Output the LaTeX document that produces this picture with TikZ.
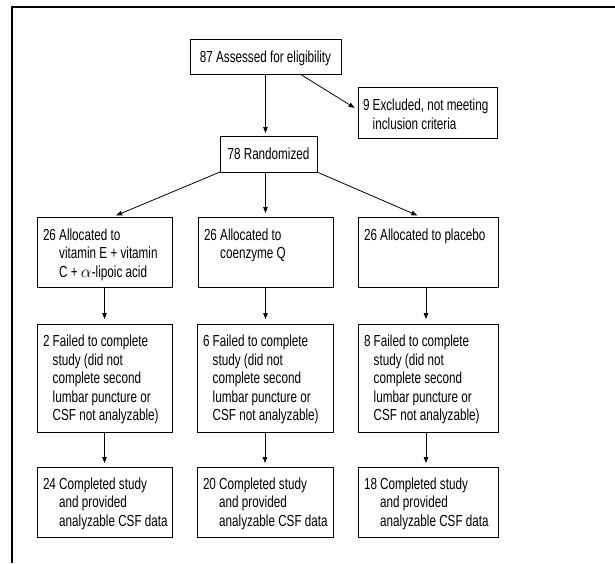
\documentclass[tikz,border=0pt]{standalone}
\usepackage{fontspec}
\setmainfont[FakeStretch=0.73]{Liberation Sans}
\usetikzlibrary{arrows.meta}
\newcommand{\bt}[4]{\parbox[c][#2pt][t]{#1pt}{\vspace*{#3pt}#4}}
\newcommand{\hg}[2]{\hspace*{6pt}\begin{tabular}[t]{@{}l@{\ }l@{}}#1&#2\end{tabular}}
\begin{document}
\begin{tikzpicture}[x=1pt,y=-1pt,
  box/.style={draw, line width=0.8pt, inner sep=0pt, outer sep=0pt, anchor=north west,
    font=\fontsize{16}{18.6}\selectfont},
  arr/.style={-{Triangle[length=6pt,width=4.5pt]}, line width=0.8pt, shorten >=4pt}]
\useasboundingbox (0,0) rectangle (615,563);
\draw[line width=1.1pt] (12,563) -- (12,7) -- (615,7);
% top
\node[box] (top) at (190,39) {\bt{151}{35}{10}{\centering\strut 87 Assessed for eligibility\par}};
\node[box] (excl) at (358,87) {\bt{139}{51}{10.5}{\hspace*{-1pt}\hg{9}{Excluded, not meeting\\&inclusion criteria}}};
\node[box] (rand) at (220,136) {\bt{97}{36}{10.5}{\centering\strut 78 Randomized\par}};
% allocation
\node[box] (a1) at (37,217) {\bt{135}{70}{10}{\hg{26}{Allocated to\\&vitamin E + vitamin\\&C + $\alpha$-lipoic acid}}};
\node[box] (a2) at (198,217) {\bt{135}{70}{10}{\hg{26}{Allocated to\\&coenzyme Q}}};
\node[box] (a3) at (358,217) {\bt{140}{70}{10}{\hg{26}{Allocated to placebo}}};
% failed
\node[box] (f1) at (37,324) {\bt{135}{108}{9.5}{\hg{2}{Failed to complete\\&study (did not\\&complete second\\&lumbar puncture or\\&CSF not analyzable)}}};
\node[box] (f2) at (197,324) {\bt{136}{108}{9.5}{\hg{6}{Failed to complete\\&study (did not\\&complete second\\&lumbar puncture or\\&CSF not analyzable)}}};
\node[box] (f3) at (358,324) {\bt{140}{108}{9.5}{\hg{8}{Failed to complete\\&study (did not\\&complete second\\&lumbar puncture or\\&CSF not analyzable)}}};
% completed
\node[box] (c1) at (37,467) {\bt{135}{70}{9}{\hg{24}{Completed study\\&and provided\\&analyzable CSF data}}};
\node[box] (c2) at (197,467) {\bt{136}{70}{9}{\hg{20}{Completed study\\&and provided\\&analyzable CSF data}}};
\node[box] (c3) at (358,467) {\bt{140}{70}{9}{\hg{18}{Completed study\\&and provided\\&analyzable CSF data}}};
% arrows
\draw[arr, shorten >=3pt] (top.south) -- (top.south |- rand.north);
\draw[arr] ([xshift=34.5pt]top.south) -- ([yshift=2.5pt]excl.west);
\draw[arr] (rand.south west) -- ([xshift=8pt]a1.north);
\draw[arr] (a2.north |- rand.south) -- (a2.north);
\draw[arr] (rand.south east) -- ([xshift=-7pt]a3.north);
\draw[arr, shorten >=5pt] (a1.south) -- (f1.north);
\draw[arr, shorten >=5pt] (a2.south) -- (a2.south |- f2.north);
\draw[arr, shorten >=5pt] ([xshift=-2pt]a3.south) -- ([xshift=-2pt]f3.north);
\draw[arr] (f1.south) -- (c1.north);
\draw[arr] (f2.south) -- (c2.north);
\draw[arr] ([xshift=-2pt]f3.south) -- ([xshift=-2pt]c3.north);
\end{tikzpicture}
\end{document}
